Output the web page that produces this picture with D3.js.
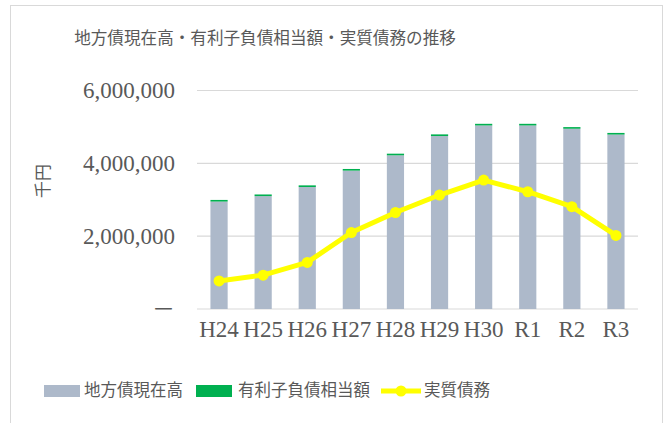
<!DOCTYPE html>
<html>
<head>
<meta charset="utf-8">
<script src="https://cdn.jsdelivr.net/npm/d3@7"></script>
<style>
  body { margin: 0; background: #fff; }
  svg { display: block; }
  text { fill: #595959; }
</style>
</head>
<body>
<svg width="666" height="423"></svg>
<script>
const svg = d3.select("svg");
const width = 666;
const height = 423;

// data
const categories = ["H24", "H25", "H26", "H27", "H28", "H29", "H30", "R1", "R2", "R3"];
const bondBalance = [2950000, 3100000, 3350000, 3800000, 4220000, 4750000, 5040000, 5040000, 4950000, 4790000];
const interestDebt = [45000, 45000, 45000, 45000, 45000, 45000, 45000, 45000, 45000, 45000];
const realDebt = [770000, 930000, 1280000, 2100000, 2650000, 3130000, 3540000, 3220000, 2810000, 2020000];
const yTicks = [0, 2000000, 4000000, 6000000];

const serifFont = "'Liberation Serif', 'Noto Sans CJK JP', serif";
const cjkFont = "'Noto Sans CJK JP', sans-serif";

// chart border
svg.append("rect")
    .attr("x", 10.5).attr("y", 5.5)
    .attr("width", 652).attr("height", 430)
    .attr("fill", "none")
    .attr("stroke", "#d9d9d9");

const plot = { left: 197, right: 638, top: 90.5, bottom: 309 };

const x = d3.scaleBand()
    .domain(categories)
    .range([plot.left, plot.right])
    .paddingInner(0.61)
    .paddingOuter(0.305);

const y = d3.scaleLinear()
    .domain([0, 6000000])
    .range([plot.bottom, plot.top]);

// gridlines
svg.append("g")
    .selectAll("line")
    .data(yTicks)
    .join("line")
    .attr("x1", plot.left).attr("x2", plot.right)
    .attr("y1", d => y(d)).attr("y2", d => y(d))
    .attr("stroke", "#d9d9d9")
    .attr("stroke-width", 1.2);

// y axis labels
svg.append("g")
    .selectAll("text")
    .data(yTicks)
    .join("text")
    .attr("x", 175)
    .attr("y", d => y(d) + 7.5)
    .attr("text-anchor", "end")
    .style("font-family", serifFont)
    .style("font-size", "23px")
    .text(d => d === 0 ? "－" : d3.format(",")(d));

// axis title
svg.append("text")
    .attr("transform", "translate(41,181) rotate(-90)")
    .attr("text-anchor", "middle")
    .attr("dominant-baseline", "central")
    .style("font-family", cjkFont)
    .style("font-size", "17px")
    .text("千円");

// stacked bars
const stacked = categories.map((c, i) => ({ cat: c, a: bondBalance[i], b: interestDebt[i] }));

svg.append("g")
    .selectAll("rect")
    .data(stacked)
    .join("rect")
    .attr("x", d => x(d.cat))
    .attr("width", x.bandwidth())
    .attr("y", d => y(d.a))
    .attr("height", d => y(0) - y(d.a))
    .attr("fill", "#adb9ca");

svg.append("g")
    .selectAll("rect")
    .data(stacked)
    .join("rect")
    .attr("x", d => x(d.cat))
    .attr("width", x.bandwidth())
    .attr("y", d => y(d.a + d.b))
    .attr("height", d => y(d.a) - y(d.a + d.b))
    .attr("fill", "#00b050");

// x labels
svg.append("g")
    .selectAll("text")
    .data(categories)
    .join("text")
    .attr("x", d => x(d) + x.bandwidth() / 2)
    .attr("y", 337)
    .attr("text-anchor", "middle")
    .style("font-family", serifFont)
    .style("font-size", "23px")
    .text(d => d);

// line
const line = d3.line()
    .x((d, i) => x(categories[i]) + x.bandwidth() / 2)
    .y(d => y(d));

svg.append("path")
    .datum(realDebt)
    .attr("d", line)
    .attr("fill", "none")
    .attr("stroke", "#ffff00")
    .attr("stroke-width", 5)
    .attr("stroke-linejoin", "round");

svg.append("g")
    .selectAll("circle")
    .data(realDebt)
    .join("circle")
    .attr("cx", (d, i) => x(categories[i]) + x.bandwidth() / 2)
    .attr("cy", d => y(d))
    .attr("r", 5.5)
    .attr("fill", "#ffff00");

// title
svg.append("text")
    .attr("x", 265)
    .attr("y", 44)
    .attr("text-anchor", "middle")
    .style("font-family", cjkFont)
    .style("font-size", "16.6px")
    .text("地方債現在高・有利子負債相当額・実質債務の推移");

// legend
const legend = svg.append("g").style("font-family", cjkFont).style("font-size", "16.5px");

legend.append("rect").attr("x", 44).attr("y", 385).attr("width", 36).attr("height", 12).attr("fill", "#adb9ca");
legend.append("text").attr("x", 84).attr("y", 396).text("地方債現在高");

legend.append("rect").attr("x", 196).attr("y", 385).attr("width", 36).attr("height", 12).attr("fill", "#00b050");
legend.append("text").attr("x", 238).attr("y", 396).text("有利子負債相当額");

legend.append("line").attr("x1", 381).attr("x2", 421).attr("y1", 391).attr("y2", 391)
    .attr("stroke", "#ffff00").attr("stroke-width", 5);
legend.append("circle").attr("cx", 401).attr("cy", 391).attr("r", 5.5).attr("fill", "#ffff00");
legend.append("text").attr("x", 424).attr("y", 396).text("実質債務");
</script>
</body>
</html>
